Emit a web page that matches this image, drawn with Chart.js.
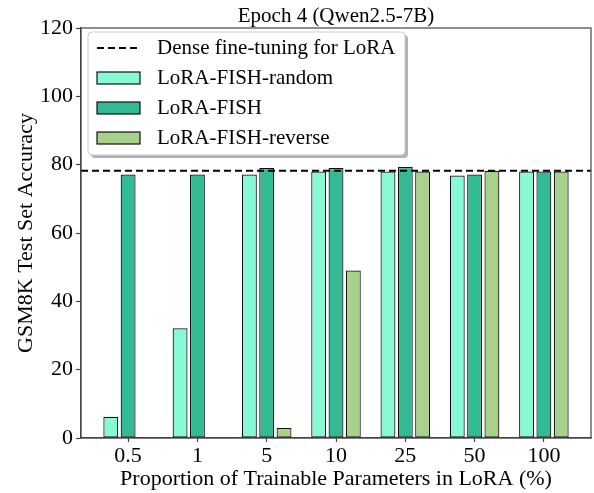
<!DOCTYPE html>
<html>
<head>
<meta charset="utf-8">
<script src="https://cdn.jsdelivr.net/npm/chart.js@4.4.1/dist/chart.umd.min.js"></script>
<style>
html,body{margin:0;padding:0;background:#fff;}
#wrap{width:594px;height:493px;}
</style>
</head>
<body>
<div id="wrap"><canvas id="c" width="594" height="493"></canvas></div>
<script>
const categories = ['0.5', '1', '5', '10', '25', '50', '100'];
const randomValues = [6.2, 32.1, 77.1, 78.0, 78.0, 76.8, 78.0];
const fishValues = [77.1, 77.1, 79.0, 79.0, 79.3, 77.1, 78.0];
const reverseValues = [0, 0, 2.9, 49.0, 78.0, 78.2, 78.0];
const denseValue = 78.2;
const yTicks = [0, 20, 40, 60, 80, 100, 120];
const seriesLabels = ['LoRA-FISH-random', 'LoRA-FISH', 'LoRA-FISH-reverse'];
const denseLabel = 'Dense fine-tuning for LoRA';
const titleText = 'Epoch 4 (Qwen2.5-7B)';

const FONT = '"Liberation Serif", "Times New Roman", serif';
const colors = ['#88f9d6', '#32ba95', '#a8d18b'];
const X_MIN = -0.68, X_MAX = categories.length - 1 + 0.68;

const toPts = vals => vals.map((v, i) => ({x: i, y: v}));

const framePlugin = {
  id: 'frame',
  afterDraw(chart) {
    const {ctx, chartArea: a} = chart;
    ctx.save();
    ctx.strokeStyle = '#444';
    ctx.lineWidth = 1.2;
    ctx.strokeRect(a.left, a.top, a.right - a.left, a.bottom - a.top);
    // title
    ctx.fillStyle = '#000';
    ctx.font = '21px ' + FONT;
    ctx.textAlign = 'center';
    ctx.textBaseline = 'alphabetic';
    ctx.fillText(titleText, (a.left + a.right) / 2, a.top - 6);
    // legend
    const bx = a.left + 7, by = a.top + 4, bw = 317, bh = 123;
    const r = 4;
    function rr(x, y, w, h) {
      ctx.beginPath();
      ctx.moveTo(x + r, y);
      ctx.lineTo(x + w - r, y); ctx.quadraticCurveTo(x + w, y, x + w, y + r);
      ctx.lineTo(x + w, y + h - r); ctx.quadraticCurveTo(x + w, y + h, x + w - r, y + h);
      ctx.lineTo(x + r, y + h); ctx.quadraticCurveTo(x, y + h, x, y + h - r);
      ctx.lineTo(x, y + r); ctx.quadraticCurveTo(x, y, x + r, y);
      ctx.closePath();
    }
    ctx.fillStyle = 'rgba(0,0,0,0.3)';
    rr(bx + 3, by + 3, bw, bh); ctx.fill();
    ctx.fillStyle = '#fff';
    rr(bx, by, bw, bh); ctx.fill();
    ctx.strokeStyle = '#ccc'; ctx.lineWidth = 1;
    rr(bx, by, bw, bh); ctx.stroke();
    const ds = chart.data.datasets;
    const rows = [ds.find(d => d.type === 'line')].concat(ds.filter(d => d.type !== 'line'));
    ctx.font = '21px ' + FONT;
    ctx.textAlign = 'left';
    ctx.textBaseline = 'middle';
    rows.forEach((d, i) => {
      const cy = by + 16 + i * 30;
      const hx = bx + 9, hw = 43;
      if (d.type === 'line') {
        ctx.save();
        ctx.strokeStyle = '#000'; ctx.lineWidth = 2; ctx.setLineDash([7, 4]);
        ctx.beginPath(); ctx.moveTo(hx, cy); ctx.lineTo(hx + hw, cy); ctx.stroke();
        ctx.restore();
      } else {
        ctx.fillStyle = d.backgroundColor;
        ctx.fillRect(hx, cy - 6, hw, 12);
        ctx.strokeStyle = '#111'; ctx.lineWidth = 1.2;
        ctx.strokeRect(hx, cy - 6, hw, 12);
      }
      ctx.fillStyle = '#000';
      ctx.fillText(d.label, bx + 69, cy);
    });
    ctx.restore();
  }
};

const datasets = seriesLabels.map((lab, k) => ({
  type: 'bar',
  label: lab,
  data: toPts([randomValues, fishValues, reverseValues][k]),
  backgroundColor: colors[k],
  borderColor: '#111',
  borderWidth: 1.2,
  borderSkipped: false,
  categoryPercentage: 0.75,
  barPercentage: 0.86,
  order: 1
}));
datasets.push({
  type: 'line',
  label: denseLabel,
  data: [{x: X_MIN, y: denseValue}, {x: X_MAX, y: denseValue}],
  borderColor: '#000',
  borderWidth: 2,
  borderDash: [7, 4],
  pointRadius: 0,
  fill: false,
  order: 0
});

new Chart(document.getElementById('c'), {
  type: 'bar',
  data: {datasets},
  options: {
    responsive: false,
    animation: false,
    devicePixelRatio: 1,
    layout: {padding: {top: 28, right: 3, left: 0, bottom: 0}},
    plugins: {legend: {display: false}, tooltip: {enabled: false}, title: {display: false}},
    scales: {
      x: {
        type: 'linear',
        offset: false,
        min: X_MIN, max: X_MAX,
        afterBuildTicks: s => { s.ticks = categories.map((_, i) => ({value: i})); },
        afterFit: s => { s.height = 55; },
        ticks: {
          callback: v => categories[v],
          font: {family: FONT, size: 22},
          color: '#000',
          padding: 1,
          maxRotation: 0,
          autoSkip: false
        },
        grid: {offset: false, drawOnChartArea: false, drawTicks: true, tickLength: 4, tickColor: '#444', tickWidth: 1.2},
        border: {display: true, color: '#444', width: 1.2},
        title: {display: true, text: 'Proportion of Trainable Parameters in LoRA (%)', font: {family: FONT, size: 22}, color: '#000', padding: {top: 0, bottom: 1}}
      },
      y: {
        type: 'linear',
        min: 0, max: 120,
        afterBuildTicks: s => { s.ticks = yTicks.map(v => ({value: v})); },
        afterFit: s => { s.width = 81; },
        ticks: {
          font: {family: FONT, size: 22},
          color: '#000',
          padding: 3
        },
        grid: {drawOnChartArea: false, drawTicks: true, tickLength: 5, tickColor: '#444', tickWidth: 1.2},
        border: {display: true, color: '#444', width: 1.2},
        title: {display: true, text: 'GSM8K Test Set Accuracy', font: {family: FONT, size: 22}, color: '#000', padding: {top: 13, bottom: 0}}
      }
    }
  },
  plugins: [framePlugin]
});
</script>
</body>
</html>
